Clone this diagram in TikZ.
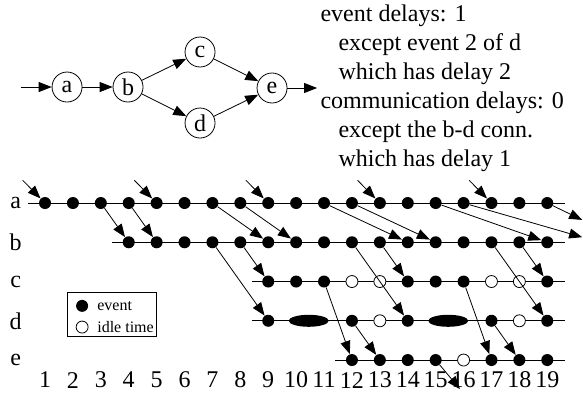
\documentclass[tikz,border=0pt]{standalone}
\usepackage{fontspec}
\setmainfont{Liberation Serif}
\usetikzlibrary{arrows.meta,shapes.geometric}

\tikzset{
  >={Triangle[length=6.5pt,width=5pt]},
  proc/.style={draw, circle, inner sep=0pt, minimum size=15pt},
  event/.style={circle, fill, inner sep=0pt, minimum size=6pt},
  idle/.style={circle, draw, fill=white, inner sep=0pt, minimum size=6pt},
  longevent/.style={ellipse, fill, inner sep=0pt, minimum width=20pt, minimum height=6pt},
  msg/.style={->, line width=0.4pt},
  keytext/.style={anchor=west, inner sep=0pt, font=\fontsize{8}{9.5}\selectfont},
}

\begin{document}
\begin{tikzpicture}[x=13.95pt, y=19.625pt, font=\fontsize{12}{14.5}\selectfont]
  \useasboundingbox (-0.613,-4.815) rectangle (20.28,5.172);
  % Process graph
  \node[proc] (a) at (1.79,2.955) {a};
  \node[proc] (b) at (3.975,2.955) {b};
  \node[proc] (c) at (6.556,3.847) {c};
  \node[proc] (d) at (6.556,2.038) {d};
  \node[proc] (e) at (9.136,2.93) {e};
  \coordinate (src) at (0.14,2.955);
  \coordinate (snk) at (10.75,2.93);
  \draw[->] (src) -- (a);
  \draw[->] (a) -- (b);
  \draw[->] (b) -- (c);
  \draw[->] (b) -- (d);
  \draw[->] (c) -- (e);
  \draw[->] (d) -- (e);
  \draw[->] (e) -- (snk);
  % Delays
  \node[anchor=north west, align=left, inner sep=0pt] (notes) at (10.86,5.05) {%
    event delays: 1\\
    \hspace*{9pt}except event 2 of d\\
    \hspace*{9pt}which has delay 2\\
    communication delays: 0\\
    \hspace*{9pt}except the b-d conn.\\
    \hspace*{9pt}which has delay 1};
  % Time lines
  \foreach \row/\y/\first in {a/0/1, b/-1/4, c/-2/9, d/-3/9, e/-4/12} {
    \node (l\row) at (-0.05,\y) {\row};
    \draw (\first-0.6,\y) -- (19.65,\y);
  }
  \foreach \x in {1,...,19}
    \node (t\x) at (\x,-4.51) {\x};
  % Events and idle times
  \foreach \x in {1,...,19} \node[event] (a\x) at (\x,0) {};
  \foreach \x in {4,...,19} \node[event] (b\x) at (\x,-1) {};
  \foreach \x in {9,10,11,14,15,16,19} \node[event] (c\x) at (\x,-2) {};
  \foreach \x in {12,13,17,18} \node[idle] (c\x) at (\x,-2) {};
  \foreach \x in {9,12,14,17,19} \node[event] (d\x) at (\x,-3) {};
  \foreach \x in {13,18} \node[idle] (d\x) at (\x,-3) {};
  \node[longevent] (d10) at (10.45,-3) {};
  \node[longevent] (d15) at (15.45,-3) {};
  \foreach \x in {12,13,14,15,17,18,19} \node[event] (e\x) at (\x,-4) {};
  \node[idle] (e16) at (16,-4) {};
  % Inputs to a
  \foreach \x in {1,5,9,13,17} {
    \coordinate (in\x) at (\x-0.8,0.58);
    \draw[msg] (in\x) -- (a\x);
  }
  % Messages
  \foreach \s/\t in {a3/b4, a4/b5, a7/b9, a8/b10, a11/b14, a12/b15, a15/b19,
                     b7/d9, b8/c9, b12/d14, b13/c14, b17/d19, b18/c19,
                     c11/e12, c16/e17, d12/e13, d17/e18}
    \draw[msg] (\s) -- (\t);
  \coordinate (outa16) at (20.25,-0.87);
  \coordinate (outa19) at (20.25,-0.43);
  \coordinate (oute15) at (15.87,-4.74);
  \draw[msg] (a16) -- (outa16);
  \draw[msg] (a19) -- (outa19);
  \draw[msg] (e15) -- (oute15);
  % Key
  \draw[line width=0.5pt] (1.79,-2.29) rectangle (4.98,-3.41);
  \node[event] (keyev) at (2.33,-2.62) {};
  \node[idle] (keyidle) at (2.33,-3.16) {};
  \node[keytext] (keyevt) at (2.86,-2.62) {event};
  \node[keytext] (keyidlet) at (2.86,-3.16) {idle time};
\end{tikzpicture}
\end{document}
